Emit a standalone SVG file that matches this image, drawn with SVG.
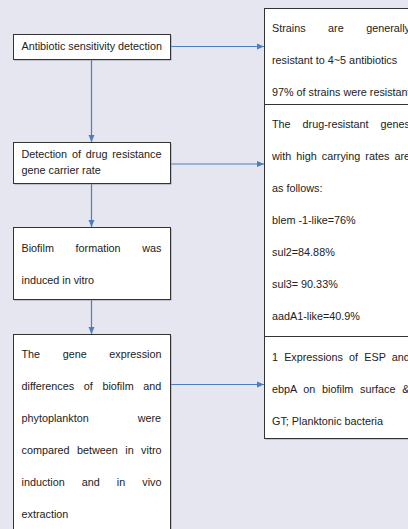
<svg xmlns="http://www.w3.org/2000/svg" width="408" height="529" viewBox="0 0 408 529">
<defs>
<marker id="ah" markerUnits="userSpaceOnUse" markerWidth="8" markerHeight="8" viewBox="0 0 8 8" refX="7" refY="4" orient="auto">
<path d="M0,1 L7,4 L0,7 Z" fill="#4a7ebf"/>
</marker>
</defs>
<style>
.bg{fill:#e6e6f1}
.box{fill:#ffffff;stroke:#333333;stroke-width:1}
.sh{fill:#9a9aa4}
.sep{stroke:#333333;stroke-width:1}
.t{font-family:"Liberation Sans",Arial,sans-serif;font-size:10.8px;fill:#222222}
.c{stroke:#4a7ebf;stroke-width:1.2;fill:none;marker-end:url(#ah)}
</style>
<rect class="bg" x="0" y="0" width="408" height="529"/>
<g id="connectors">
<path class="c" d="M91.5,59 L91.5,142"/>
<path class="c" d="M91.5,183 L91.5,227"/>
<path class="c" d="M91.5,299 L91.5,334"/>
<path class="c" d="M170,46.5 L264,46.5"/>
<path class="c" d="M170,164 L264,164"/>
<path class="c" d="M170,384.5 L264,384.5"/>
</g>
<g id="n1">
<rect class="sh" x="14.5" y="35.5" width="157" height="25"/>
<rect class="box" x="13.5" y="34.5" width="157" height="25"/>
<text class="t" x="21.5" y="50">Antibiotic sensitivity detection</text>
</g>
<g id="n2">
<rect class="sh" x="14.5" y="143.5" width="157" height="41"/>
<rect class="box" x="13.5" y="142.5" width="157" height="41"/>
<text class="t" x="21.5" y="158" word-spacing="1.85">Detection of drug resistance</text>
<text class="t" x="21.5" y="174">gene carrier rate</text>
</g>
<g id="n3">
<rect class="sh" x="14.5" y="228.5" width="157" height="72"/>
<rect class="box" x="13.5" y="227.5" width="157" height="72"/>
<text class="t" x="21.5" y="252" word-spacing="18.69">Biofilm formation was</text>
<text class="t" x="21.5" y="284">induced in vitro</text>
</g>
<g id="n4">
<rect class="sh" x="14.5" y="335.5" width="157" height="210"/>
<rect class="box" x="13.5" y="334.5" width="157" height="210"/>
<text class="t" x="21.5" y="358" word-spacing="19.58">The gene expression</text>
<text class="t" x="21.5" y="390" word-spacing="6.65">differences of biofilm and</text>
<text class="t" x="21.5" y="422" word-spacing="45.92">phytoplankton were</text>
<text class="t" x="21.5" y="454" word-spacing="4.45">compared between in vitro</text>
<text class="t" x="21.5" y="486" word-spacing="14.05">induction and in vivo</text>
<text class="t" x="21.5" y="518">extraction</text>
</g>
<g id="n5">
<rect class="sh" x="265.5" y="9.5" width="157" height="430"/>
<rect class="box" x="264.5" y="8.5" width="157" height="430"/>
<line class="sep" x1="264.5" y1="104.5" x2="421.5" y2="104.5"/>
<line class="sep" x1="264.5" y1="336.5" x2="421.5" y2="336.5"/>
<text class="t" x="272" y="32" word-spacing="19.49">Strains are generally</text>
<text class="t" x="272" y="64">resistant to 4~5 antibiotics</text>
<text class="t" x="272" y="96">97% of strains were resistant</text>
<text class="t" x="272" y="128" word-spacing="8.98">The drug-resistant genes</text>
<text class="t" x="272" y="160" word-spacing="2.09">with high carrying rates are</text>
<text class="t" x="272" y="192">as follows:</text>
<text class="t" x="272" y="224">blem -1-like=76%</text>
<text class="t" x="272" y="256">sul2=84.88%</text>
<text class="t" x="272" y="288">sul3= 90.33%</text>
<text class="t" x="272" y="320">aadA1-like=40.9%</text>
<text class="t" x="272" y="361" word-spacing="3.14">1 Expressions of ESP and</text>
<text class="t" x="272" y="393" word-spacing="3.74">ebpA on biofilm surface &amp;</text>
<text class="t" x="272" y="425">GT; Planktonic bacteria</text>
</g>
</svg>
